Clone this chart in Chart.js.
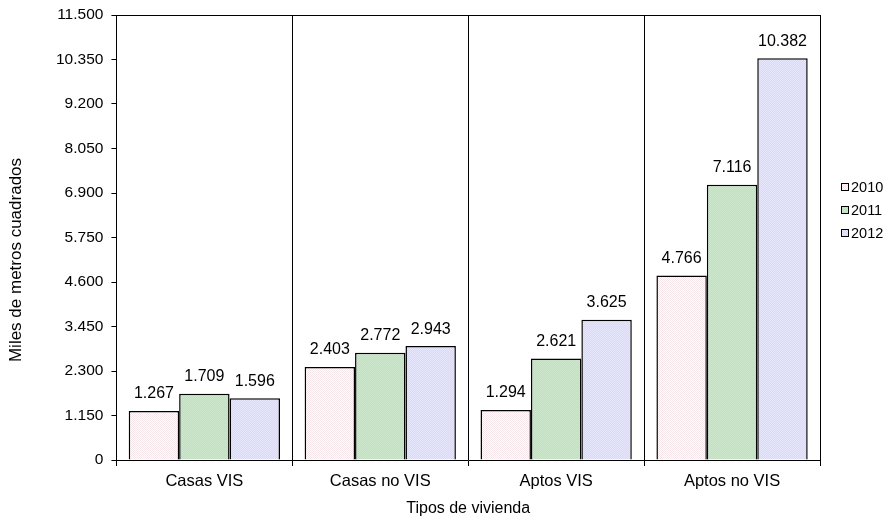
<!DOCTYPE html>
<html>
<head>
<meta charset="utf-8">
<script src="https://cdn.jsdelivr.net/npm/chart.js@4/dist/chart.umd.min.js"></script>
<style>
  html, body { margin: 0; padding: 0; background: #fff; }
  #wrap { width: 890px; height: 518px; }
</style>
</head>
<body>
<div id="wrap"><canvas id="myChart" width="890" height="518"></canvas></div>
<script>
var categories = ["Casas VIS", "Casas no VIS", "Aptos VIS", "Aptos no VIS"];
var years = ["2010", "2011", "2012"];
var values2010 = [1267, 2403, 1294, 4766];
var values2011 = [1709, 2772, 2621, 7116];
var values2012 = [1596, 2943, 3625, 10382];
var yTicks = [0, 1150, 2300, 3450, 4600, 5750, 6900, 8050, 9200, 10350, 11500];
var yTitle = "Miles de metros cuadrados";

var FONT = "'Liberation Sans', Arial, sans-serif";

function fmt(n) {
  return String(n).replace(/\B(?=(\d{3})+(?!\d))/g, ".");
}

// small checker patterns to imitate the dotted fills
function pattern(a, b) {
  var c = document.createElement("canvas");
  c.width = 2; c.height = 2;
  var g = c.getContext("2d");
  g.fillStyle = a; g.fillRect(0, 0, 2, 2);
  g.fillStyle = b; g.fillRect(0, 0, 1, 1); g.fillRect(1, 1, 1, 1);
  return g.createPattern(c, "repeat");
}

var fill2010 = pattern("#ffffff", "#f6e6ea");
var fill2011 = pattern("#bfe0bf", "#cde8cd");
var fill2012 = pattern("#d8d8f8", "#e6e6fc");

var boxPlugin = {
  id: "box",
  afterDraw: function (chart) {
    var a = chart.chartArea, c = chart.ctx;
    c.save();
    c.strokeStyle = "#000";
    c.lineWidth = 1;
    c.beginPath();
    c.moveTo(Math.round(a.left), Math.round(a.top) + 0.5);
    c.lineTo(Math.round(a.right) + 0.5, Math.round(a.top) + 0.5);
    c.lineTo(Math.round(a.right) + 0.5, a.bottom);
    c.stroke();
    c.restore();
  }
};

var labelPlugin = {
  id: "valueLabels",
  afterDatasetsDraw: function (chart) {
    var c = chart.ctx;
    c.save();
    c.fillStyle = "#000";
    c.font = "16px " + FONT;
    c.textAlign = "center";
    c.textBaseline = "middle";
    chart.data.datasets.forEach(function (ds, i) {
      chart.getDatasetMeta(i).data.forEach(function (bar, j) {
        c.fillText(fmt(ds.data[j]), bar.x, bar.y - 17);
      });
    });
    c.restore();
  }
};

// y title sits a bit below the axis middle in the original
var yTitlePlugin = {
  id: "yTitle",
  afterDraw: function (chart) {
    var c = chart.ctx;
    c.save();
    c.translate(16, 260);
    c.rotate(-Math.PI / 2);
    c.font = "17px " + FONT;
    c.fillStyle = "#000";
    c.textAlign = "center";
    c.textBaseline = "middle";
    c.fillText(yTitle, 0, 0);
    c.restore();
  }
};

// legend on the right, drawn by hand to keep its place
var legendPlugin = {
  id: "sideLegend",
  afterDraw: function (chart) {
    var c = chart.ctx;
    var x = chart.chartArea.right + 21;
    var y0 = 187;
    c.save();
    c.font = "14.5px " + FONT;
    c.textBaseline = "middle";
    c.textAlign = "left";
    chart.data.datasets.forEach(function (ds, i) {
      var y = y0 + i * 23;
      c.fillStyle = ds.backgroundColor;
      c.fillRect(x, y - 4, 8, 8);
      c.strokeStyle = "#000";
      c.lineWidth = 1;
      c.strokeRect(x + 0.5, y - 3.5, 7, 7);
      c.fillStyle = "#000";
      c.fillText(ds.label, x + 10, y + 1);
    });
    c.restore();
  }
};

var ctx = document.getElementById("myChart");
var myChart = new Chart(ctx, {
  type: "bar",
  data: {
    labels: categories,
    datasets: [
      { label: years[0], data: values2010, backgroundColor: fill2010, borderColor: "#000", borderWidth: 1.5, borderSkipped: "bottom" },
      { label: years[1], data: values2011, backgroundColor: fill2011, borderColor: "#000", borderWidth: 1.5, borderSkipped: "bottom" },
      { label: years[2], data: values2012, backgroundColor: fill2012, borderColor: "#000", borderWidth: 1.5, borderSkipped: "bottom" },
    ],
  },
  options: {
    responsive: false,
    animation: false,
    devicePixelRatio: 1,
    layout: { padding: { top: 15, right: 70, left: 48, bottom: 0 } },
    datasets: { bar: { categoryPercentage: 0.86, barPercentage: 1.0 } },
    plugins: {
      legend: { display: false },
      tooltip: { enabled: false },
    },
    scales: {
      x: {
        offset: true,
        grid: { offset: true, color: "#000", drawOnChartArea: true, drawTicks: true, tickLength: 6 },
        border: { color: "#000" },
        ticks: { color: "#000", padding: 6, font: { size: 16.5, family: FONT } },
        title: { display: true, text: "Tipos de vivienda", color: "#000", padding: { top: 1, bottom: 0 }, font: { size: 16, family: FONT } },
      },
      y: {
        min: 0,
        max: 11500,
        afterBuildTicks: function (axis) {
          axis.ticks = yTicks.map(function (v) { return { value: v }; });
        },
        afterFit: function (axis) {
          axis.paddingTop = 0;
        },
        grid: { drawOnChartArea: false, drawTicks: true, tickLength: 5, color: "#000" },
        border: { color: "#000" },
        ticks: {
          color: "#000",
          padding: 8,
          font: { size: 15.5, family: FONT },
          callback: function (v) { return fmt(v); },
        },
      },
    },
  },
  plugins: [boxPlugin, labelPlugin, yTitlePlugin, legendPlugin],
});
</script>
</body>
</html>
